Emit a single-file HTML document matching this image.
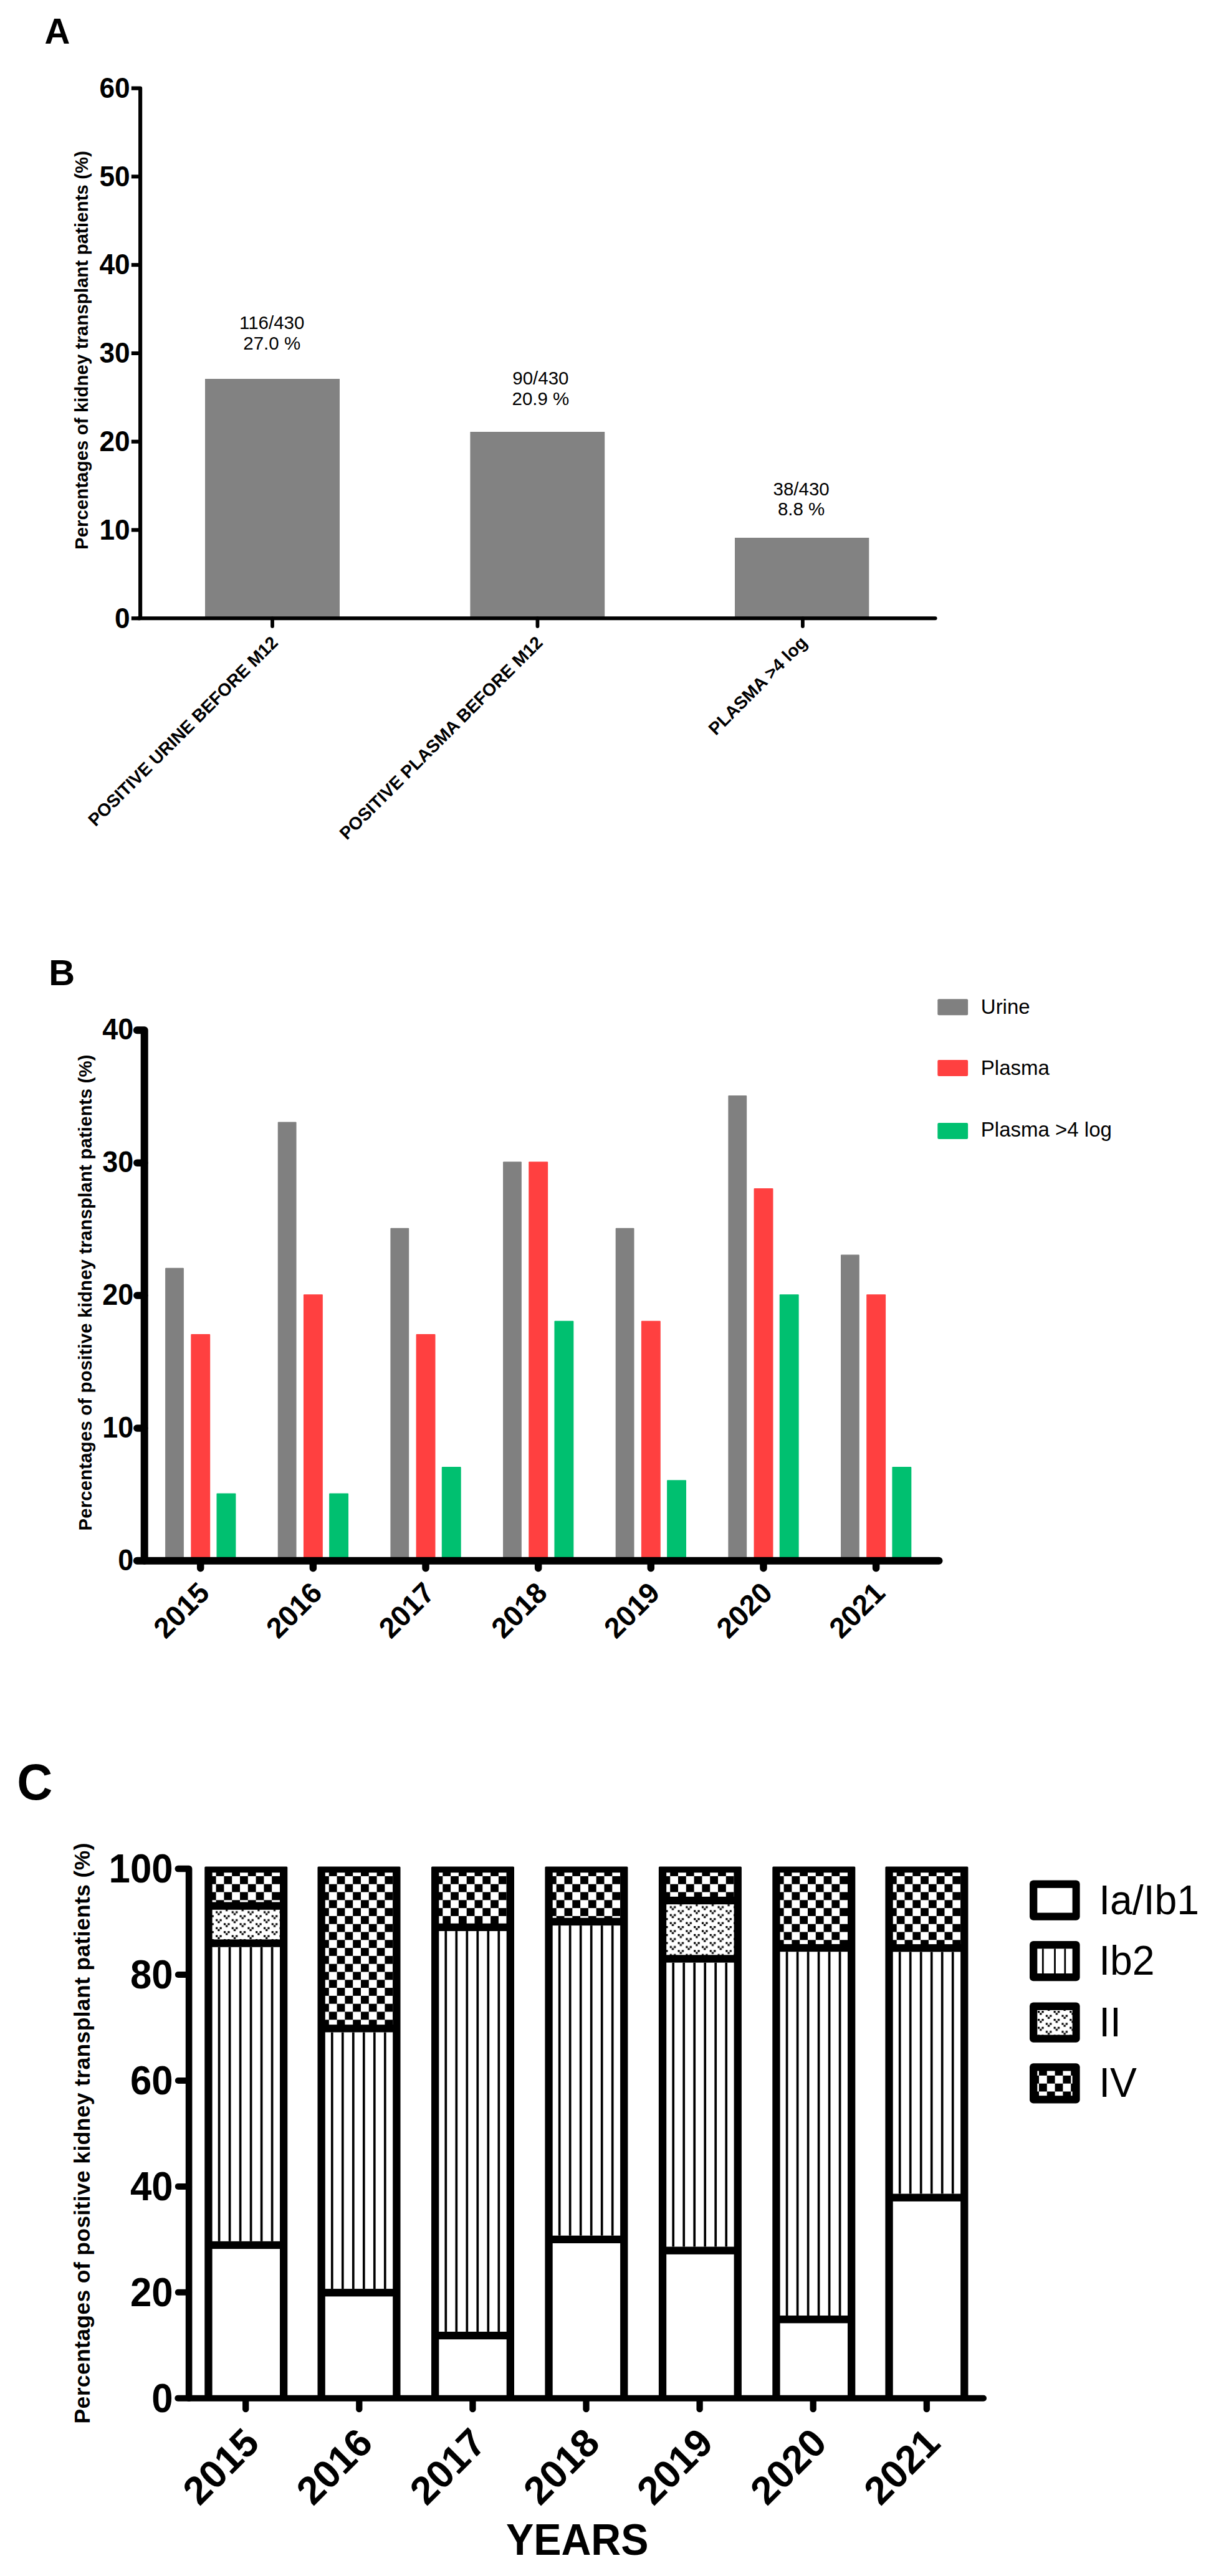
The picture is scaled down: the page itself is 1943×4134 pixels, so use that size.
<!DOCTYPE html>
<html><head><meta charset="utf-8"><title>Figure</title>
<style>
html,body{margin:0;padding:0;background:#fff;}
svg{display:block;font-family:"Liberation Sans",Arial,sans-serif;fill:#000;}
</style></head><body>
<svg width="1943" height="4134" viewBox="0 0 1943 4134">
<defs><pattern id="ck" x="5.5" y="2.9" width="25.6" height="25.6" patternUnits="userSpaceOnUse"><rect width="25.6" height="25.6" fill="#fff"/><rect x="12.8" y="0" width="12.8" height="12.8" fill="#000"/><rect x="0" y="12.8" width="12.8" height="12.8" fill="#000"/></pattern><pattern id="ck3" x="3" y="2.9" width="25.6" height="25.6" patternUnits="userSpaceOnUse"><rect width="25.6" height="25.6" fill="#fff"/><rect x="12.8" y="0" width="12.8" height="12.8" fill="#000"/><rect x="0" y="12.8" width="12.8" height="12.8" fill="#000"/></pattern><pattern id="dt" x="5.0" y="1.5" width="25.6" height="12.8" patternUnits="userSpaceOnUse"><rect width="25.6" height="12.8" fill="#fff"/><rect x="0.0" y="0.0" width="3.2" height="3.2" fill="#000"/><rect x="6.4" y="0.0" width="3.2" height="3.2" fill="#000"/><rect x="3.2" y="3.2" width="3.2" height="3.2" fill="#000"/><rect x="12.8" y="6.4" width="3.2" height="3.2" fill="#000"/><rect x="19.2" y="6.4" width="3.2" height="3.2" fill="#000"/><rect x="16.0" y="9.6" width="3.2" height="3.2" fill="#000"/></pattern><pattern id="dt2" x="5.0" y="6.2" width="25.6" height="12.8" patternUnits="userSpaceOnUse"><rect width="25.6" height="12.8" fill="#fff"/><rect x="0.0" y="0.0" width="3.2" height="3.2" fill="#000"/><rect x="6.4" y="0.0" width="3.2" height="3.2" fill="#000"/><rect x="3.2" y="3.2" width="3.2" height="3.2" fill="#000"/><rect x="12.8" y="6.4" width="3.2" height="3.2" fill="#000"/><rect x="19.2" y="6.4" width="3.2" height="3.2" fill="#000"/><rect x="16.0" y="9.6" width="3.2" height="3.2" fill="#000"/></pattern><pattern id="dt3" x="1" y="1.5" width="25.6" height="12.8" patternUnits="userSpaceOnUse"><rect width="25.6" height="12.8" fill="#fff"/><rect x="0.0" y="0.0" width="3.2" height="3.2" fill="#000"/><rect x="6.4" y="0.0" width="3.2" height="3.2" fill="#000"/><rect x="3.2" y="3.2" width="3.2" height="3.2" fill="#000"/><rect x="12.8" y="6.4" width="3.2" height="3.2" fill="#000"/><rect x="19.2" y="6.4" width="3.2" height="3.2" fill="#000"/><rect x="16.0" y="9.6" width="3.2" height="3.2" fill="#000"/></pattern></defs>
<rect width="1943" height="4134" fill="#fff"/>

<g id="panelA">
<text transform="translate(71.5 69.5)" font-size="56.5" font-weight="bold" text-anchor="start" >A</text>
<rect x="329.00" y="608.00" width="216.00" height="384.30" fill="#828282" />
<rect x="754.40" y="693.00" width="215.80" height="299.30" fill="#828282" />
<rect x="1179.00" y="863.00" width="215.30" height="129.30" fill="#828282" />
<path d="M210.8 141.56 H225.1 V992.30" fill="none" stroke="#000" stroke-width="6.15" stroke-linejoin="round"/>
<line x1="222.00" y1="992.30" x2="1500.50" y2="992.30" stroke="#000" stroke-width="6.1" stroke-linecap="round"/>
<line x1="210.80" y1="992.30" x2="225.10" y2="992.30" stroke="#000" stroke-width="6.1" stroke-linecap="butt"/>
<text transform="translate(208.6 1007.5) scale(0.955 1)" font-size="46.3" font-weight="bold" text-anchor="end" >0</text>
<line x1="210.80" y1="850.51" x2="225.10" y2="850.51" stroke="#000" stroke-width="6.1" stroke-linecap="butt"/>
<text transform="translate(208.6 865.71) scale(0.955 1)" font-size="46.3" font-weight="bold" text-anchor="end" >10</text>
<line x1="210.80" y1="708.72" x2="225.10" y2="708.72" stroke="#000" stroke-width="6.1" stroke-linecap="butt"/>
<text transform="translate(208.6 723.9200000000001) scale(0.955 1)" font-size="46.3" font-weight="bold" text-anchor="end" >20</text>
<line x1="210.80" y1="566.93" x2="225.10" y2="566.93" stroke="#000" stroke-width="6.1" stroke-linecap="butt"/>
<text transform="translate(208.6 582.13) scale(0.955 1)" font-size="46.3" font-weight="bold" text-anchor="end" >30</text>
<line x1="210.80" y1="425.14" x2="225.10" y2="425.14" stroke="#000" stroke-width="6.1" stroke-linecap="butt"/>
<text transform="translate(208.6 440.34) scale(0.955 1)" font-size="46.3" font-weight="bold" text-anchor="end" >40</text>
<line x1="210.80" y1="283.35" x2="225.10" y2="283.35" stroke="#000" stroke-width="6.1" stroke-linecap="butt"/>
<text transform="translate(208.6 298.5499999999999) scale(0.955 1)" font-size="46.3" font-weight="bold" text-anchor="end" >50</text>
<text transform="translate(208.6 156.75999999999993) scale(0.955 1)" font-size="46.3" font-weight="bold" text-anchor="end" >60</text>
<line x1="437.00" y1="992.30" x2="437.00" y2="1005.00" stroke="#000" stroke-width="5.8" stroke-linecap="round"/>
<line x1="862.45" y1="992.30" x2="862.45" y2="1005.00" stroke="#000" stroke-width="5.8" stroke-linecap="round"/>
<line x1="1287.90" y1="992.30" x2="1287.90" y2="1005.00" stroke="#000" stroke-width="5.8" stroke-linecap="round"/>
<text transform="translate(436.2 527.6)" font-size="29.5" text-anchor="middle" >116/430</text>
<text transform="translate(436.2 560.6)" font-size="29.5" text-anchor="middle" >27.0 %</text>
<text transform="translate(867.4 617.3)" font-size="29.5" text-anchor="middle" >90/430</text>
<text transform="translate(867.4 650.3)" font-size="29.5" text-anchor="middle" >20.9 %</text>
<text transform="translate(1285.6 794.6)" font-size="29.5" text-anchor="middle" >38/430</text>
<text transform="translate(1285.6 827.0)" font-size="29.5" text-anchor="middle" >8.8 %</text>
<text transform="translate(447.7 1033) rotate(-45)" font-size="28.4" font-weight="bold" text-anchor="end" >POSITIVE URINE BEFORE M12</text>
<text transform="translate(872.5 1033) rotate(-45)" font-size="28.4" font-weight="bold" text-anchor="end" >POSITIVE PLASMA BEFORE M12</text>
<text transform="translate(1296.7 1033) rotate(-45)" font-size="28.4" font-weight="bold" text-anchor="end" >PLASMA &gt;4 log</text>
<text transform="translate(140.7 562) rotate(-90)" font-size="29.3" font-weight="bold" text-anchor="middle" textLength="640" lengthAdjust="spacing" >Percentages of kidney transplant patients (%)</text>
</g>
<g id="panelB">
<text transform="translate(78.3 1581)" font-size="58" font-weight="bold" text-anchor="start" >B</text>
<rect x="265.10" y="2034.67" width="29.80" height="470.18" fill="#808080" rx="1"/>
<rect x="306.30" y="2141.12" width="30.90" height="363.73" fill="#FF4040" rx="1"/>
<rect x="347.50" y="2396.60" width="30.90" height="108.25" fill="#00C070" rx="1"/>
<rect x="445.75" y="1800.48" width="29.80" height="704.37" fill="#808080" rx="1"/>
<rect x="486.95" y="2077.25" width="30.90" height="427.60" fill="#FF4040" rx="1"/>
<rect x="528.15" y="2396.60" width="30.90" height="108.25" fill="#00C070" rx="1"/>
<rect x="626.40" y="1970.80" width="29.80" height="534.05" fill="#808080" rx="1"/>
<rect x="667.60" y="2141.12" width="30.90" height="363.73" fill="#FF4040" rx="1"/>
<rect x="708.80" y="2354.02" width="30.90" height="150.83" fill="#00C070" rx="1"/>
<rect x="807.05" y="1864.35" width="29.80" height="640.50" fill="#808080" rx="1"/>
<rect x="848.25" y="1864.35" width="30.90" height="640.50" fill="#FF4040" rx="1"/>
<rect x="889.45" y="2119.83" width="30.90" height="385.02" fill="#00C070" rx="1"/>
<rect x="987.70" y="1970.80" width="29.80" height="534.05" fill="#808080" rx="1"/>
<rect x="1028.90" y="2119.83" width="30.90" height="385.02" fill="#FF4040" rx="1"/>
<rect x="1070.10" y="2375.31" width="30.90" height="129.54" fill="#00C070" rx="1"/>
<rect x="1168.35" y="1757.90" width="29.80" height="746.95" fill="#808080" rx="1"/>
<rect x="1209.55" y="1906.93" width="30.90" height="597.92" fill="#FF4040" rx="1"/>
<rect x="1250.75" y="2077.25" width="30.90" height="427.60" fill="#00C070" rx="1"/>
<rect x="1349.00" y="2013.38" width="29.80" height="491.47" fill="#808080" rx="1"/>
<rect x="1390.20" y="2077.25" width="30.90" height="427.60" fill="#FF4040" rx="1"/>
<rect x="1431.40" y="2354.02" width="30.90" height="150.83" fill="#00C070" rx="1"/>
<path d="M219.8 1653.25 H231.7 V2504.85" fill="none" stroke="#000" stroke-width="12" stroke-linejoin="round" stroke-linecap="round"/>
<line x1="219.80" y1="2504.85" x2="1506.50" y2="2504.85" stroke="#000" stroke-width="12" stroke-linecap="round"/>
<text transform="translate(214.3 2519.85) scale(0.95 1)" font-size="47.3" font-weight="bold" text-anchor="end" >0</text>
<line x1="219.80" y1="2291.95" x2="231.70" y2="2291.95" stroke="#000" stroke-width="11.5" stroke-linecap="round"/>
<text transform="translate(214.3 2306.95) scale(0.95 1)" font-size="47.3" font-weight="bold" text-anchor="end" >10</text>
<line x1="219.80" y1="2079.05" x2="231.70" y2="2079.05" stroke="#000" stroke-width="11.5" stroke-linecap="round"/>
<text transform="translate(214.3 2094.05) scale(0.95 1)" font-size="47.3" font-weight="bold" text-anchor="end" >20</text>
<line x1="219.80" y1="1866.15" x2="231.70" y2="1866.15" stroke="#000" stroke-width="11.5" stroke-linecap="round"/>
<text transform="translate(214.3 1881.15) scale(0.95 1)" font-size="47.3" font-weight="bold" text-anchor="end" >30</text>
<text transform="translate(214.3 1668.25) scale(0.95 1)" font-size="47.3" font-weight="bold" text-anchor="end" >40</text>
<line x1="321.70" y1="2504.85" x2="321.70" y2="2516.80" stroke="#000" stroke-width="11.5" stroke-linecap="round"/>
<text transform="translate(338.7 2559) rotate(-45)" font-size="46.3" font-weight="bold" text-anchor="end" >2015</text>
<line x1="502.35" y1="2504.85" x2="502.35" y2="2516.80" stroke="#000" stroke-width="11.5" stroke-linecap="round"/>
<text transform="translate(519.35 2559) rotate(-45)" font-size="46.3" font-weight="bold" text-anchor="end" >2016</text>
<line x1="683.00" y1="2504.85" x2="683.00" y2="2516.80" stroke="#000" stroke-width="11.5" stroke-linecap="round"/>
<text transform="translate(700.0 2559) rotate(-45)" font-size="46.3" font-weight="bold" text-anchor="end" >2017</text>
<line x1="863.65" y1="2504.85" x2="863.65" y2="2516.80" stroke="#000" stroke-width="11.5" stroke-linecap="round"/>
<text transform="translate(880.6500000000001 2559) rotate(-45)" font-size="46.3" font-weight="bold" text-anchor="end" >2018</text>
<line x1="1044.30" y1="2504.85" x2="1044.30" y2="2516.80" stroke="#000" stroke-width="11.5" stroke-linecap="round"/>
<text transform="translate(1061.3 2559) rotate(-45)" font-size="46.3" font-weight="bold" text-anchor="end" >2019</text>
<line x1="1224.95" y1="2504.85" x2="1224.95" y2="2516.80" stroke="#000" stroke-width="11.5" stroke-linecap="round"/>
<text transform="translate(1241.95 2559) rotate(-45)" font-size="46.3" font-weight="bold" text-anchor="end" >2020</text>
<line x1="1405.60" y1="2504.85" x2="1405.60" y2="2516.80" stroke="#000" stroke-width="11.5" stroke-linecap="round"/>
<text transform="translate(1422.6000000000001 2559) rotate(-45)" font-size="46.3" font-weight="bold" text-anchor="end" >2021</text>
<text transform="translate(147 2074.5) rotate(-90)" font-size="29.3" font-weight="bold" text-anchor="middle" textLength="764" lengthAdjust="spacing" >Percentages of positive kidney transplant patients (%)</text>
<rect x="1504.30" y="1603.30" width="48.80" height="26.00" fill="#808080" rx="2"/>
<text transform="translate(1573.8 1627)" font-size="33" text-anchor="start" >Urine</text>
<rect x="1504.30" y="1701.00" width="48.80" height="26.00" fill="#FF4040" rx="2"/>
<text transform="translate(1573.8 1724.8)" font-size="33" text-anchor="start" >Plasma</text>
<rect x="1504.30" y="1802.00" width="48.80" height="26.00" fill="#00C070" rx="2"/>
<text transform="translate(1573.8 1824.4)" font-size="33" text-anchor="start" >Plasma &gt;4 log</text>
</g>
<g id="panelC">
<text transform="translate(27.3 2887.6) scale(0.97 1)" font-size="81.5" font-weight="bold" text-anchor="start" >C</text>
<g transform="translate(328.3 0)">
<rect x="0.00" y="2995.60" width="133.00" height="853.20" fill="#000" rx="1.5"/>
<rect x="12.30" y="3609.10" width="108.40" height="239.70" fill="#fff" />
<rect x="12.30" y="3124.72" width="108.40" height="472.09" fill="#fff" />
<rect x="21.45" y="3124.72" width="3.70" height="472.09" fill="#000" />
<rect x="38.45" y="3124.72" width="3.70" height="472.09" fill="#000" />
<rect x="55.45" y="3124.72" width="3.70" height="472.09" fill="#000" />
<rect x="72.45" y="3124.72" width="3.70" height="472.09" fill="#000" />
<rect x="89.45" y="3124.72" width="3.70" height="472.09" fill="#000" />
<rect x="106.45" y="3124.72" width="3.70" height="472.09" fill="#000" />
<rect x="12.30" y="3064.81" width="108.40" height="47.61" fill="url(#dt)" />
<rect x="12.30" y="3005.20" width="108.40" height="47.31" fill="url(#ck)" />
</g>
<g transform="translate(509.5 0)">
<rect x="0.00" y="2995.60" width="133.00" height="853.20" fill="#000" rx="1.5"/>
<rect x="12.30" y="3685.41" width="108.40" height="163.39" fill="#fff" />
<rect x="12.30" y="3261.45" width="108.40" height="411.67" fill="#fff" />
<rect x="21.45" y="3261.45" width="3.70" height="411.67" fill="#000" />
<rect x="38.45" y="3261.45" width="3.70" height="411.67" fill="#000" />
<rect x="55.45" y="3261.45" width="3.70" height="411.67" fill="#000" />
<rect x="72.45" y="3261.45" width="3.70" height="411.67" fill="#000" />
<rect x="89.45" y="3261.45" width="3.70" height="411.67" fill="#000" />
<rect x="106.45" y="3261.45" width="3.70" height="411.67" fill="#000" />
<rect x="12.30" y="3005.20" width="108.40" height="243.95" fill="url(#ck)" />
</g>
<g transform="translate(692.0 0)">
<rect x="0.00" y="2995.60" width="133.00" height="853.20" fill="#000" rx="1.5"/>
<rect x="12.30" y="3754.25" width="108.40" height="94.55" fill="#fff" />
<rect x="12.30" y="3099.05" width="108.40" height="642.90" fill="#fff" />
<rect x="21.45" y="3099.05" width="3.70" height="642.90" fill="#000" />
<rect x="38.45" y="3099.05" width="3.70" height="642.90" fill="#000" />
<rect x="55.45" y="3099.05" width="3.70" height="642.90" fill="#000" />
<rect x="72.45" y="3099.05" width="3.70" height="642.90" fill="#000" />
<rect x="89.45" y="3099.05" width="3.70" height="642.90" fill="#000" />
<rect x="106.45" y="3099.05" width="3.70" height="642.90" fill="#000" />
<rect x="12.30" y="3005.20" width="108.40" height="81.55" fill="url(#ck)" />
</g>
<g transform="translate(874.4 0)">
<rect x="0.00" y="2995.60" width="133.00" height="853.20" fill="#000" rx="1.5"/>
<rect x="12.30" y="3600.01" width="108.40" height="248.79" fill="#fff" />
<rect x="12.30" y="3090.13" width="108.40" height="497.58" fill="#fff" />
<rect x="21.45" y="3090.13" width="3.70" height="497.58" fill="#000" />
<rect x="38.45" y="3090.13" width="3.70" height="497.58" fill="#000" />
<rect x="55.45" y="3090.13" width="3.70" height="497.58" fill="#000" />
<rect x="72.45" y="3090.13" width="3.70" height="497.58" fill="#000" />
<rect x="89.45" y="3090.13" width="3.70" height="497.58" fill="#000" />
<rect x="106.45" y="3090.13" width="3.70" height="497.58" fill="#000" />
<rect x="12.30" y="3005.20" width="108.40" height="72.63" fill="url(#ck)" />
</g>
<g transform="translate(1056.9 0)">
<rect x="0.00" y="2995.60" width="133.00" height="853.20" fill="#000" rx="1.5"/>
<rect x="12.30" y="3617.86" width="108.40" height="230.94" fill="#fff" />
<rect x="12.30" y="3149.62" width="108.40" height="455.94" fill="#fff" />
<rect x="21.45" y="3149.62" width="3.70" height="455.94" fill="#000" />
<rect x="38.45" y="3149.62" width="3.70" height="455.94" fill="#000" />
<rect x="55.45" y="3149.62" width="3.70" height="455.94" fill="#000" />
<rect x="72.45" y="3149.62" width="3.70" height="455.94" fill="#000" />
<rect x="89.45" y="3149.62" width="3.70" height="455.94" fill="#000" />
<rect x="106.45" y="3149.62" width="3.70" height="455.94" fill="#000" />
<rect x="12.30" y="3056.14" width="108.40" height="81.18" fill="url(#dt2)" />
<rect x="12.30" y="3005.20" width="108.40" height="38.64" fill="url(#ck)" />
</g>
<g transform="translate(1239.3 0)">
<rect x="0.00" y="2995.60" width="133.00" height="853.20" fill="#000" rx="1.5"/>
<rect x="12.30" y="3728.33" width="108.40" height="120.47" fill="#fff" />
<rect x="12.30" y="3132.20" width="108.40" height="583.83" fill="#fff" />
<rect x="21.45" y="3132.20" width="3.70" height="583.83" fill="#000" />
<rect x="38.45" y="3132.20" width="3.70" height="583.83" fill="#000" />
<rect x="55.45" y="3132.20" width="3.70" height="583.83" fill="#000" />
<rect x="72.45" y="3132.20" width="3.70" height="583.83" fill="#000" />
<rect x="89.45" y="3132.20" width="3.70" height="583.83" fill="#000" />
<rect x="106.45" y="3132.20" width="3.70" height="583.83" fill="#000" />
<rect x="12.30" y="3005.20" width="108.40" height="114.70" fill="url(#ck)" />
</g>
<g transform="translate(1420.4 0)">
<rect x="0.00" y="2995.60" width="133.00" height="853.20" fill="#000" rx="1.5"/>
<rect x="12.30" y="3532.88" width="108.40" height="315.92" fill="#fff" />
<rect x="12.30" y="3132.37" width="108.40" height="388.21" fill="#fff" />
<rect x="21.45" y="3132.37" width="3.70" height="388.21" fill="#000" />
<rect x="38.45" y="3132.37" width="3.70" height="388.21" fill="#000" />
<rect x="55.45" y="3132.37" width="3.70" height="388.21" fill="#000" />
<rect x="72.45" y="3132.37" width="3.70" height="388.21" fill="#000" />
<rect x="89.45" y="3132.37" width="3.70" height="388.21" fill="#000" />
<rect x="106.45" y="3132.37" width="3.70" height="388.21" fill="#000" />
<rect x="12.30" y="3005.20" width="108.40" height="114.87" fill="url(#ck)" />
</g>
<path d="M285.8 2999.00 H303.1 V3848.80" fill="none" stroke="#000" stroke-width="10.6" stroke-linejoin="round" stroke-linecap="round"/>
<line x1="285.30" y1="3848.80" x2="1578.00" y2="3848.80" stroke="#000" stroke-width="10" stroke-linecap="round"/>
<text transform="translate(277.6 3871.0) scale(0.965 1)" font-size="64" font-weight="bold" text-anchor="end" >0</text>
<line x1="285.80" y1="3678.84" x2="303.10" y2="3678.84" stroke="#000" stroke-width="10" stroke-linecap="round"/>
<text transform="translate(277.6 3701.04) scale(0.965 1)" font-size="64" font-weight="bold" text-anchor="end" >20</text>
<line x1="285.80" y1="3508.88" x2="303.10" y2="3508.88" stroke="#000" stroke-width="10" stroke-linecap="round"/>
<text transform="translate(277.6 3531.08) scale(0.965 1)" font-size="64" font-weight="bold" text-anchor="end" >40</text>
<line x1="285.80" y1="3338.92" x2="303.10" y2="3338.92" stroke="#000" stroke-width="10" stroke-linecap="round"/>
<text transform="translate(277.6 3361.12) scale(0.965 1)" font-size="64" font-weight="bold" text-anchor="end" >60</text>
<line x1="285.80" y1="3168.96" x2="303.10" y2="3168.96" stroke="#000" stroke-width="10" stroke-linecap="round"/>
<text transform="translate(277.6 3191.16) scale(0.965 1)" font-size="64" font-weight="bold" text-anchor="end" >80</text>
<text transform="translate(277.6 3021.2) scale(0.965 1)" font-size="64" font-weight="bold" text-anchor="end" >100</text>
<line x1="394.20" y1="3850.80" x2="394.20" y2="3866.20" stroke="#000" stroke-width="10.3" stroke-linecap="round"/>
<text transform="translate(419.2 3924) rotate(-45)" font-size="63" font-weight="bold" text-anchor="end" >2015</text>
<line x1="576.30" y1="3850.80" x2="576.30" y2="3866.20" stroke="#000" stroke-width="10.3" stroke-linecap="round"/>
<text transform="translate(601.3 3924) rotate(-45)" font-size="63" font-weight="bold" text-anchor="end" >2016</text>
<line x1="758.40" y1="3850.80" x2="758.40" y2="3866.20" stroke="#000" stroke-width="10.3" stroke-linecap="round"/>
<text transform="translate(783.4 3924) rotate(-45)" font-size="63" font-weight="bold" text-anchor="end" >2017</text>
<line x1="940.50" y1="3850.80" x2="940.50" y2="3866.20" stroke="#000" stroke-width="10.3" stroke-linecap="round"/>
<text transform="translate(965.5 3924) rotate(-45)" font-size="63" font-weight="bold" text-anchor="end" >2018</text>
<line x1="1122.60" y1="3850.80" x2="1122.60" y2="3866.20" stroke="#000" stroke-width="10.3" stroke-linecap="round"/>
<text transform="translate(1147.6 3924) rotate(-45)" font-size="63" font-weight="bold" text-anchor="end" >2019</text>
<line x1="1304.70" y1="3850.80" x2="1304.70" y2="3866.20" stroke="#000" stroke-width="10.3" stroke-linecap="round"/>
<text transform="translate(1329.7 3924) rotate(-45)" font-size="63" font-weight="bold" text-anchor="end" >2020</text>
<line x1="1486.80" y1="3850.80" x2="1486.80" y2="3866.20" stroke="#000" stroke-width="10.3" stroke-linecap="round"/>
<text transform="translate(1511.8 3924) rotate(-45)" font-size="63" font-weight="bold" text-anchor="end" >2021</text>
<text transform="translate(144.4 3423.5) rotate(-90)" font-size="35.5" font-weight="bold" text-anchor="middle" textLength="932" lengthAdjust="spacing" >Percentages of positive kidney transplant patients (%)</text>
<text transform="translate(926.2 4099.7) scale(0.955 1)" font-size="69.5" font-weight="bold" text-anchor="middle" >YEARS</text>
<rect x="1652.00" y="3017.60" width="80.60" height="64.20" fill="#000" rx="6"/>
<rect x="1664.30" y="3029.90" width="56.30" height="39.70" fill="#fff" />
<text transform="translate(1763.2 3071.6) scale(0.953 1)" font-size="67.5" text-anchor="start" >Ia/Ib1</text>
<rect x="1652.00" y="3115.00" width="80.60" height="64.20" fill="#000" rx="6"/>
<rect x="1664.30" y="3127.30" width="56.30" height="39.70" fill="#fff" />
<rect x="1671.90" y="3127.30" width="2.80" height="39.70" fill="#000" />
<rect x="1691.10" y="3127.30" width="2.80" height="39.70" fill="#000" />
<rect x="1707.40" y="3127.30" width="2.80" height="39.70" fill="#000" />
<text transform="translate(1763.2 3169.0) scale(0.953 1)" font-size="67.5" text-anchor="start" >Ib2</text>
<rect x="1652.00" y="3213.60" width="80.60" height="64.20" fill="#000" rx="6"/>
<rect x="1664.30" y="3225.90" width="56.30" height="39.70" fill="url(#dt3)" />
<text transform="translate(1763.2 3267.6) scale(0.953 1)" font-size="67.5" text-anchor="start" >II</text>
<rect x="1652.00" y="3311.20" width="80.60" height="64.20" fill="#000" rx="6"/>
<rect x="1664.30" y="3323.50" width="56.30" height="39.70" fill="url(#ck3)" />
<text transform="translate(1763.2 3365.2) scale(0.953 1)" font-size="67.5" text-anchor="start" >IV</text>
</g>
</svg></body></html>
